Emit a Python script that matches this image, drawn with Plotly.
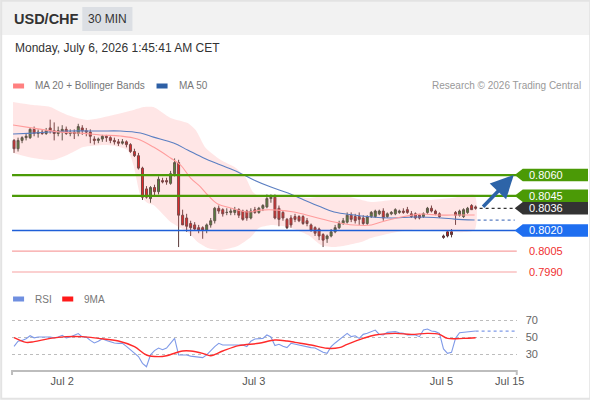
import plotly.graph_objects as go

REF_W, H = 590, 400      # reference picture size (coordinates below are read in it)
FIG_W = 600              # page width that is squeezed into the 590-px picture

# ---------------- data ----------------
idx = list(range(116))
opens = [.8085,.8079,.8085,.8087,.8087,.8093,.8090,.8091,.8090,.8094,
         .8092,.8090,.8091,.8093,.8090,.8091,.8090,.8094,.8092,.8091,
         .8086,.8085,.8086,.8088,.8087,.8085,.8084,.8083,.8084,.8082,
         .8077,.8074,.8065,.8050,.8043,.8051,.8048,.8056,.8056,.8054,
         .8061,.8069,.8031,.8029,.8025,.8024,.8022,.8022,.8020,.8024,
         .8027,.8036,.8035,.8033,.8033,.8033,.8035,.8034,.8034,.8029,
         .8035,.8033,.8036,.8037,.8043,.8044,.8036,.8033,.8028,.8029,
         .8030,.8030,.8030,.8027,.8024,.8022,.8021,.8017,.8014,.8016,
         .8019,.8022,.8025,.8026,.8031,.8030,.8030,.8029,.8025,.8030,
         .8030,.8032,.8034,.8030,.8032,.8032,.8033,.8034,.8035,.8032,
         .8032,.8031,.8030,.8033,.8036,.8034,.8032,.8016,.8019,.8019,
         .8033,.8031,.8030,.8033,.8038,.8037]
highs = [.8086,.8087,.8088,.8090,.8094,.8095,.8093,.8093,.8094,.8100,
         .8098,.8095,.8096,.8095,.8093,.8093,.8097,.8096,.8094,.8093,
         .8088,.8087,.8089,.8089,.8088,.8087,.8086,.8086,.8085,.8083,
         .8079,.8076,.8066,.8052,.8052,.8053,.8059,.8058,.8058,.8063,
         .8072,.8071,.8035,.8032,.8027,.8026,.8024,.8023,.8025,.8029,
         .8037,.8038,.8036,.8036,.8036,.8037,.8036,.8035,.8035,.8036,
         .8037,.8037,.8039,.8046,.8046,.8046,.8038,.8034,.8029,.8031,
         .8032,.8031,.8031,.8029,.8025,.8023,.8022,.8018,.8017,.8021,
         .8024,.8027,.8029,.8033,.8033,.8032,.8033,.8031,.8031,.8034,
         .8035,.8035,.8036,.8033,.8034,.8036,.8035,.8036,.8037,.8034,
         .8033,.8032,.8033,.8037,.8038,.8035,.8033,.8017,.8020,.8021,
         .8034,.8035,.8036,.8037,.8039,.8038]
lows = [.8076,.8077,.8083,.8085,.8086,.8088,.8087,.8089,.8089,.8090,
        .8085,.8088,.8085,.8089,.8088,.8086,.8088,.8089,.8088,.8083,
        .8082,.8083,.8084,.8084,.8083,.8082,.8081,.8082,.8080,.8076,
        .8073,.8064,.8042,.8043,.8040,.8045,.8046,.8054,.8053,.8053,
        .8059,.8008,.8024,.8019,.8016,.8020,.8018,.8014,.8018,.8022,
        .8025,.8032,.8030,.8031,.8031,.8031,.8029,.8027,.8027,.8028,
        .8032,.8032,.8034,.8036,.8040,.8028,.8023,.8027,.8021,.8022,
        .8026,.8026,.8024,.8023,.8019,.8016,.8013,.8008,.8011,.8015,
        .8018,.8021,.8024,.8025,.8026,.8025,.8024,.8024,.8024,.8029,
        .8029,.8031,.8027,.8029,.8031,.8031,.8032,.8032,.8032,.8029,
        .8028,.8028,.8029,.8032,.8033,.8031,.8029,.8014,.8015,.8015,
        .8024,.8030,.8029,.8032,.8035,.8035]
closes = [.8079,.8085,.8087,.8088,.8093,.8090,.8091,.8090,.8092,.8092,
          .8090,.8092,.8093,.8090,.8091,.8090,.8095,.8092,.8091,.8088,
          .8085,.8086,.8088,.8087,.8085,.8084,.8083,.8084,.8082,.8077,
          .8074,.8065,.8044,.8044,.8051,.8048,.8057,.8055,.8055,.8061,
          .8069,.8031,.8024,.8023,.8022,.8021,.8020,.8020,.8024,.8027,
          .8036,.8034,.8032,.8033,.8034,.8035,.8031,.8028,.8029,.8034,
          .8033,.8036,.8038,.8043,.8044,.8029,.8028,.8029,.8022,.8024,
          .8028,.8027,.8025,.8025,.8020,.8018,.8016,.8013,.8016,.8019,
          .8022,.8025,.8027,.8031,.8028,.8027,.8028,.8025,.8030,.8033,
          .8034,.8034,.8029,.8032,.8033,.8035,.8034,.8033,.8033,.8030,
          .8029,.8029,.8032,.8036,.8034,.8032,.8030,.8015,.8016,.8017,
          .8031,.8034,.8035,.8036,.8035,.8036]

ma20_x = [-0.25,4.75,11.5,16.5,21.5,26.5,30.75,34.75,39,41.5,44,46.5,48.25,50.75,54,
          58.25,61.5,65.75,69.75,74.75,79.75,84.75,89,91.5,96.5,101.5,105.75,109,114.75]
ma20 = [0.80961,0.80939,0.80910,0.80903,0.80889,0.80882,0.80860,0.80802,0.80723,0.80672,
        0.80578,0.80513,0.80456,0.80391,0.80362,0.80333,0.80347,0.80347,0.80333,0.80297,
        0.80261,0.80239,0.80239,0.80261,0.80297,0.80318,0.80311,0.80311,0.80311]

ma50_x = [-0.25,4.75,13.25,21.5,26.5,31.5,34.75,39.75,43.25,47.25,51.5,55.75,59.75,64,
          68.25,72.25,76.5,79.75,84.75,89,94,99.75,106.5,109.75,114.75]
ma50 = [0.80896,0.80903,0.80918,0.80918,0.80918,0.80903,0.80874,0.80831,0.80781,0.80723,
        0.80672,0.80622,0.80564,0.80513,0.80470,0.80420,0.80369,0.80333,0.80311,0.80297,
        0.80290,0.80297,0.80290,0.80282,0.80275]

bb_up_x = [-0.25,4.75,9,13.25,18.25,24.75,29.75,32.25,34.75,39,43.25,45.25,47.75,51.5,
           55.25,57.75,59.5,61.5,68.25,73.25,78.25,81.5,84.75,89,94,99,104,109,114.75]
bb_up = [0.81127,0.81105,0.81091,0.81033,0.80997,0.81033,0.81069,0.81091,0.81091,0.81012,
         0.80975,0.80925,0.80795,0.80708,0.80651,0.80578,0.80477,0.80441,0.80456,0.80434,
         0.80456,0.80456,0.80434,0.80405,0.80420,0.80420,0.80420,0.80434,0.80456]

bb_lo_x = [-0.25,4.75,9.75,13.25,17.25,23.25,28.25,29.75,31.5,33.25,34.75,39,43.25,45.75,
           48.25,51.5,55.75,59,61,64,68.25,73.25,76.5,79.75,83.25,86.5,89,94,99,104,109,114.75]
bb_lo = [0.80759,0.80723,0.80708,0.80744,0.80802,0.80817,0.80781,0.80672,0.80456,0.80398,
         0.80383,0.80261,0.80188,0.80116,0.80073,0.80059,0.80087,0.80152,0.80217,0.80239,
         0.80225,0.80167,0.80095,0.80080,0.80095,0.80116,0.80145,0.80181,0.80203,0.80203,
         0.80188,0.80203]

rsi = [39,45,46,48,51.5,49,50,50.4,50,50,
       49,50,52,49,50,52,54,50,50,46,
       43,45,48,46,44.5,43,42.5,42.5,39,35,
       31,27,19,15,29,34,37,35,37,43,
       48.4,29,29,28.8,27.5,27,26,25.7,29,34,
       38.6,42.6,40.6,40.6,40.6,40.6,40.6,40.6,38.6,45,
       47.6,48,48.4,52.4,50,40,41.4,39,37.5,42.6,
       41.4,40.5,39.8,38.5,37.5,37,34.7,32,30.8,38.6,
       43,46.5,50,54.3,50.4,51.5,48.4,53.1,54.3,56,
       58.2,53.1,52.4,55.5,56,56.3,55,54.3,52.4,52.4,
       52.4,50.4,58.2,59.4,57,56.3,54.3,36,30.8,32,
       48.4,55,55.5,56.3,57,57]

ma9_x = [0,3,5,9,13,17,21,26,30,33,36,38,42,44,47,49,52,56,61,65,
         68,70,74,78,81,83,87,90,95,99,103,106,108,112,115]
ma9 = [49.2,43.7,44.5,48.4,50.4,50.4,48.4,45.3,38.6,28.8,26.9,28,33.5,33.5,30.8,28,33.5,39.8,42.6,46.5,
       45.3,43.7,40.6,36.7,37.5,41.4,48.4,52.4,54.3,53.1,54.3,53.1,48.4,48.4,49.2]

levels = [0.8060, 0.8045, 0.8020, 0.8005, 0.7990]
level_colors = ["#4b9a06", "#4b9a06", "#1f5fd8", "#f7a1a1", "#f7a1a1"]
level_widths = [2.2, 2.2, 1.4, 1.2, 1.2]
tag_values = [0.8060, 0.8045, 0.8036, 0.8020]
tag_labels = ["0.8060", "0.8045", "0.8036", "0.8020"]
tag_colors = ["#4b9a06", "#4b9a06", "#333333", "#1e6ef0"]
plain_values = [0.8005, 0.7990]
plain_labels = ["0.8005", "0.7990"]

tick_vals = [12, 59.75, 106.5, 123.5]
tick_text = ["Jul 2", "Jul 3", "Jul 5", "Jul 15"]
rsi_ticks = [30, 50, 70]

FONT = "Liberation Sans, Arial, sans-serif"

def fx(p):
    return p / REF_W

def fy(p):
    return 1 - p / H

X_RANGE = [-0.5, 125.25]
Y_RANGE = [0.79806, 0.81178]
PX_PER_PRICE = 190 / (Y_RANGE[1] - Y_RANGE[0])

fig = go.Figure()

# Bollinger band fill
fig.add_trace(go.Scatter(
    x=bb_up_x + bb_lo_x[::-1], y=bb_up + bb_lo[::-1],
    fill="toself", fillcolor="rgba(255,130,130,0.2)", mode="lines",
    line=dict(width=0, shape="spline", smoothing=0.6), hoverinfo="skip",
    xaxis="x", yaxis="y", showlegend=False))
fig.add_trace(go.Scatter(x=ma50_x, y=ma50, mode="lines",
                         line=dict(color="#5b7fc2", width=1.1, shape="spline"),
                         xaxis="x", yaxis="y", showlegend=False))
fig.add_trace(go.Scatter(x=ma20_x, y=ma20, mode="lines",
                         line=dict(color="#ff9c9c", width=1.1, shape="spline"),
                         xaxis="x", yaxis="y", showlegend=False))

fig.add_trace(go.Candlestick(
    x=idx, open=opens, high=highs, low=lows, close=closes,
    increasing=dict(line=dict(color="#3d4a3d", width=1), fillcolor="#2b8a2b"),
    decreasing=dict(line=dict(color="#5a3a3a", width=1), fillcolor="#e01414"),
    whiskerwidth=0, xaxis="x", yaxis="y", showlegend=False))

# dotted projections
last_i = idx[-1]
fig.add_trace(go.Scatter(x=[last_i + 1, 124.75], y=[closes[-1], closes[-1]], mode="lines",
                         line=dict(color="#333333", width=1.2, dash="dot"),
                         xaxis="x", yaxis="y", showlegend=False))
fig.add_trace(go.Scatter(x=[last_i + 0.5, 124.75], y=[ma50[-1], ma50[-1]], mode="lines",
                         line=dict(color="#5b7fc2", width=1.2, dash="dot"),
                         xaxis="x", yaxis="y", showlegend=False))

# RSI panel
fig.add_trace(go.Scatter(x=idx, y=rsi, mode="lines",
                         line=dict(color="#7f9ae8", width=1.1),
                         xaxis="x2", yaxis="y2", showlegend=False))
fig.add_trace(go.Scatter(x=[last_i, 124.75], y=[rsi[-1], rsi[-1]], mode="lines",
                         line=dict(color="#7f9ae8", width=1.2, dash="dot"),
                         xaxis="x2", yaxis="y2", showlegend=False))
fig.add_trace(go.Scatter(x=ma9_x, y=ma9, mode="lines",
                         line=dict(color="#ff2a2a", width=1.4, shape="spline"),
                         xaxis="x2", yaxis="y2", showlegend=False))

shapes = []
annotations = []

# header band and frame
shapes.append(dict(type="rect", xref="paper", yref="paper", x0=0, x1=1, y0=fy(35), y1=1,
                   fillcolor="#f2f2f2", line=dict(width=0), layer="below"))
shapes.append(dict(type="rect", xref="paper", yref="paper", x0=fx(82), x1=fx(132), y0=fy(31), y1=fy(7),
                   fillcolor="#dcdfe4", line=dict(width=0), layer="below"))
shapes.append(dict(type="rect", xref="paper", yref="paper", x0=0.002, x1=0.997, y0=0.003, y1=0.998,
                   fillcolor="rgba(0,0,0,0)", line=dict(color="#e3e3e3", width=2)))

annotations.append(dict(text="<b>USD/CHF</b>", x=fx(12), y=fy(19), xref="paper", yref="paper",
                        xanchor="left", yanchor="middle", showarrow=False,
                        font=dict(family=FONT, size=14.5, color="#333333")))
annotations.append(dict(text="30 MIN", x=fx(107), y=fy(19), xref="paper", yref="paper",
                        xanchor="center", yanchor="middle", showarrow=False,
                        font=dict(family=FONT, size=12, color="#333333")))
annotations.append(dict(text="Monday, July 6, 2026 1:45:41 AM CET", x=fx(13), y=fy(48),
                        xref="paper", yref="paper", xanchor="left", yanchor="middle", showarrow=False,
                        font=dict(family=FONT, size=12, color="#333333")))

# legends
def legend_item(x_px, y_px, color, text):
    shapes.append(dict(type="rect", xref="paper", yref="paper", x0=fx(x_px), x1=fx(x_px + 11),
                       y0=fy(y_px + 2.5), y1=fy(y_px - 2.5), fillcolor=color, line=dict(width=0)))
    annotations.append(dict(text=text, x=fx(x_px + 20), y=fy(y_px), xref="paper", yref="paper",
                            xanchor="left", yanchor="middle", showarrow=False,
                            font=dict(family=FONT, size=10, color="#777777")))

legend_item(13, 86, "#ff8080", "MA 20 + Bollinger Bands")
legend_item(156, 86, "#2d5fa5", "MA 50")
legend_item(13, 299, "#6f8fe0", "RSI")
legend_item(62, 299, "#ff1a1a", "9MA")
annotations.append(dict(text="Research © 2026 Trading Central", x=fx(581), y=fy(86),
                        xref="paper", yref="paper", xanchor="right", yanchor="middle", showarrow=False,
                        font=dict(family=FONT, size=10, color="#999999")))

# level lines
for lv, col, wd in zip(levels, level_colors, level_widths):
    shapes.append(dict(type="line", xref="x domain", yref="y", x0=0, x1=1, y0=lv, y1=lv,
                       line=dict(color=col, width=wd)))

# tags
half = 6.2 / PX_PER_PRICE
for lv, lab, col in zip(tag_values, tag_labels, tag_colors):
    path = (f"M {fx(513)},{lv} L {fx(521)},{lv + half} L {fx(586)},{lv + half} "
            f"L {fx(586)},{lv - half} L {fx(521)},{lv - half} Z")
    shapes.append(dict(type="path", xref="paper", yref="y", path=path,
                       fillcolor=col, line=dict(width=0)))
    annotations.append(dict(text=lab, x=fx(525), y=lv, xref="paper", yref="y",
                            xanchor="left", yanchor="middle", showarrow=False,
                            font=dict(family=FONT, size=11, color="white")))
for lv, lab in zip(plain_values, plain_labels):
    annotations.append(dict(text=lab, x=fx(525), y=lv, xref="paper", yref="y",
                            xanchor="left", yanchor="middle", showarrow=False,
                            font=dict(family=FONT, size=11, color="#f03030")))

# forecast arrow
annotations.append(dict(x=124.5, y=levels[0], ax=last_i + 1.5, ay=closes[-1],
                        xref="x", yref="y", axref="x", ayref="y", text="", showarrow=True,
                        arrowhead=2, arrowsize=1.3, arrowwidth=3.5, arrowcolor="#2d64a8"))

# axis end ticks
for xd in (0, 1):
    shapes.append(dict(type="line", xref="x2 domain", yref="paper", x0=xd, x1=xd,
                       y0=fy(370), y1=fy(375), line=dict(color="#bdbdbd", width=2)))

fig.update_layout(
    width=FIG_W, height=H, autosize=False, margin=dict(l=0, r=0, t=0, b=0),
    paper_bgcolor="white", plot_bgcolor="rgba(0,0,0,0)",
    font=dict(family=FONT),
    showlegend=False,
    xaxis=dict(domain=[fx(12), fx(515)], range=X_RANGE, visible=False, anchor="y",
               rangeslider=dict(visible=False), fixedrange=True),
    yaxis=dict(domain=[fy(285), fy(95)], range=Y_RANGE, visible=False, anchor="x", fixedrange=True),
    xaxis2=dict(domain=[fx(12), fx(515)], range=X_RANGE, anchor="y2", showline=True,
                linecolor="#bdbdbd", linewidth=2, tickvals=tick_vals, ticktext=tick_text,
                ticks="", showgrid=False, zeroline=False,
                tickfont=dict(family=FONT, size=11, color="#555555")),
    yaxis2=dict(domain=[fy(370), fy(305)], range=[50 - 33 / 0.85, 50 + 32 / 0.85], anchor="x2",
                side="right", tickvals=rsi_ticks, showgrid=True, gridcolor="#bdbdbd",
                griddash="dot", gridwidth=1, zeroline=False, showline=False, ticks="",
                ticklabelstandoff=8,
                tickfont=dict(family=FONT, size=11, color="#666666")),
    shapes=shapes, annotations=annotations,
)

fig.write_html("out.html", config={"displayModeBar": False, "responsive": False})

# remove the default page margin so the figure sits at the window origin
with open("out.html", "r", encoding="utf-8") as f:
    html = f.read()
html = html.replace("<head>", "<head><style>html,body{margin:0;padding:0;overflow:hidden;}</style>", 1)
with open("out.html", "w", encoding="utf-8") as f:
    f.write(html)
